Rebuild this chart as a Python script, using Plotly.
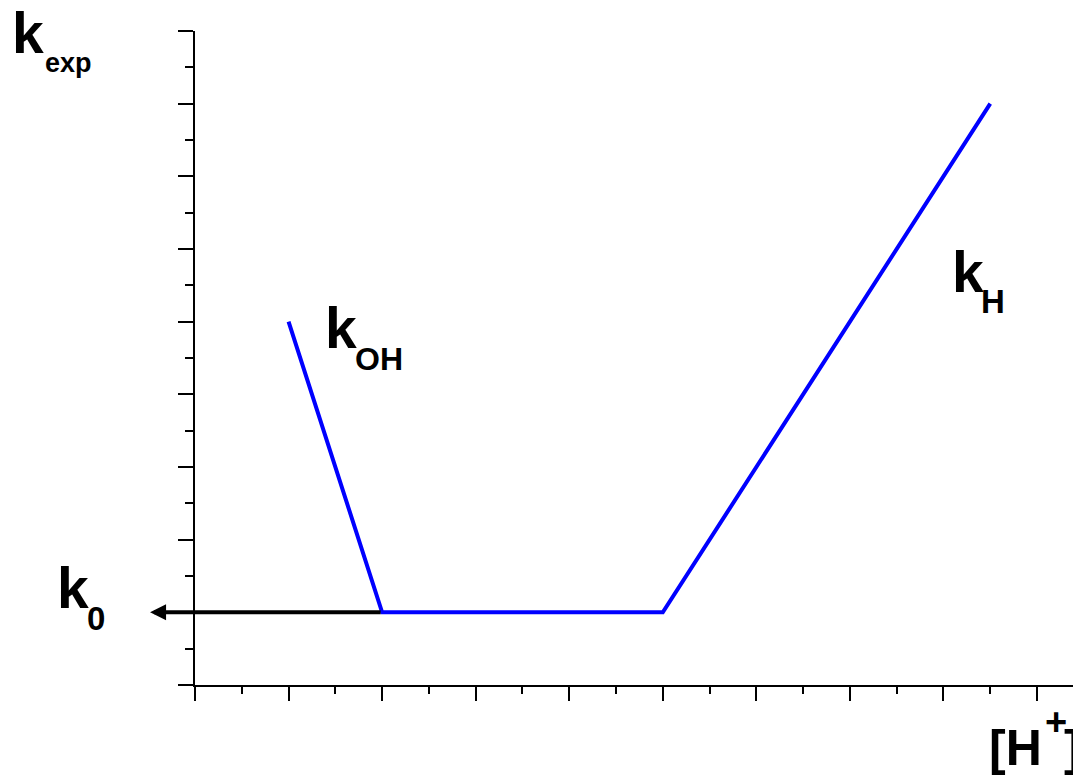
import plotly.graph_objects as go

# ---- data ----
curve_x = [1.0, 2.0, 5.0, 8.5]
curve_y = [5.0, 1.0, 1.0, 8.0]
k0_value = 1.0
k0_arrow_from_x = 2.0
k0_arrow_to_x = -0.48

x_range = [0, 9.47]
y_range = [0, 9]

# the page body has an 8px default margin; compensate so the picture lines up
OFF = 8
W, H = 1081 - OFF, 775 - OFF
ML, MR, MT = 195 - OFF, 0, 31 - OFF
MB = H - (685 - OFF)
PW = W - ML - MR
PH = H - MT - MB

FONT = "Liberation Sans, Arial, sans-serif"

fig = go.Figure()
fig.add_trace(go.Scatter(
    x=curve_x, y=curve_y, mode="lines",
    line=dict(color="#0000FF", width=4),
    hoverinfo="skip", showlegend=False,
))

annotations = []

# k0 arrow
annotations.append(dict(
    x=k0_arrow_to_x, y=k0_value, ax=k0_arrow_from_x, ay=k0_value,
    xref="x", yref="y", axref="x", ayref="y",
    text="", showarrow=True, arrowhead=2, arrowsize=0.8,
    arrowwidth=4, arrowcolor="black", standoff=0, startstandoff=0,
))


def label(text, left_px, baseline_px, size):
    # left_px / baseline_px are page pixel positions
    left_px -= OFF
    baseline_px -= OFF
    center_px = baseline_px - 0.3465 * size
    annotations.append(dict(
        text="<b>%s</b>" % text,
        x=(left_px - ML) / PW, y=(H - MB - center_px) / PH,
        xref="paper", yref="paper", xanchor="left", yanchor="middle",
        showarrow=False, borderpad=0,
        font=dict(family=FONT, size=size, color="black"),
    ))


# k_exp
label("k", 11, 53, 57)
label("exp", 44, 72, 27)
# k_OH
label("k", 324, 348, 57)
label("OH", 354, 370, 32)
# k_H
label("k", 951, 292, 57)
label("H", 980, 313, 33)
# k_0
label("k", 56, 608, 57)
label("0", 86, 630, 33)
# [H+]
label("[H", 988, 765, 50)
label("+", 1044, 735, 38)
label("]", 1063, 765, 50)

axis_common = dict(
    showline=True, linecolor="black", linewidth=2,
    ticks="outside", tickcolor="black", tickwidth=2,
    showticklabels=False, showgrid=False, zeroline=False,
    dtick=1, tick0=0,
)

fig.update_layout(
    width=W, height=H,
    margin=dict(l=ML, r=MR, t=MT, b=MB),
    paper_bgcolor="white", plot_bgcolor="white",
    xaxis=dict(range=x_range, ticklen=14,
               minor=dict(dtick=0.5, ticklen=7, tickwidth=2, tickcolor="black", ticks="outside"),
               **axis_common),
    yaxis=dict(range=y_range, ticklen=15,
               minor=dict(dtick=0.5, ticklen=8, tickwidth=2, tickcolor="black", ticks="outside"),
               **axis_common),
    annotations=annotations,
    showlegend=False,
)

fig.write_html("out.html")
